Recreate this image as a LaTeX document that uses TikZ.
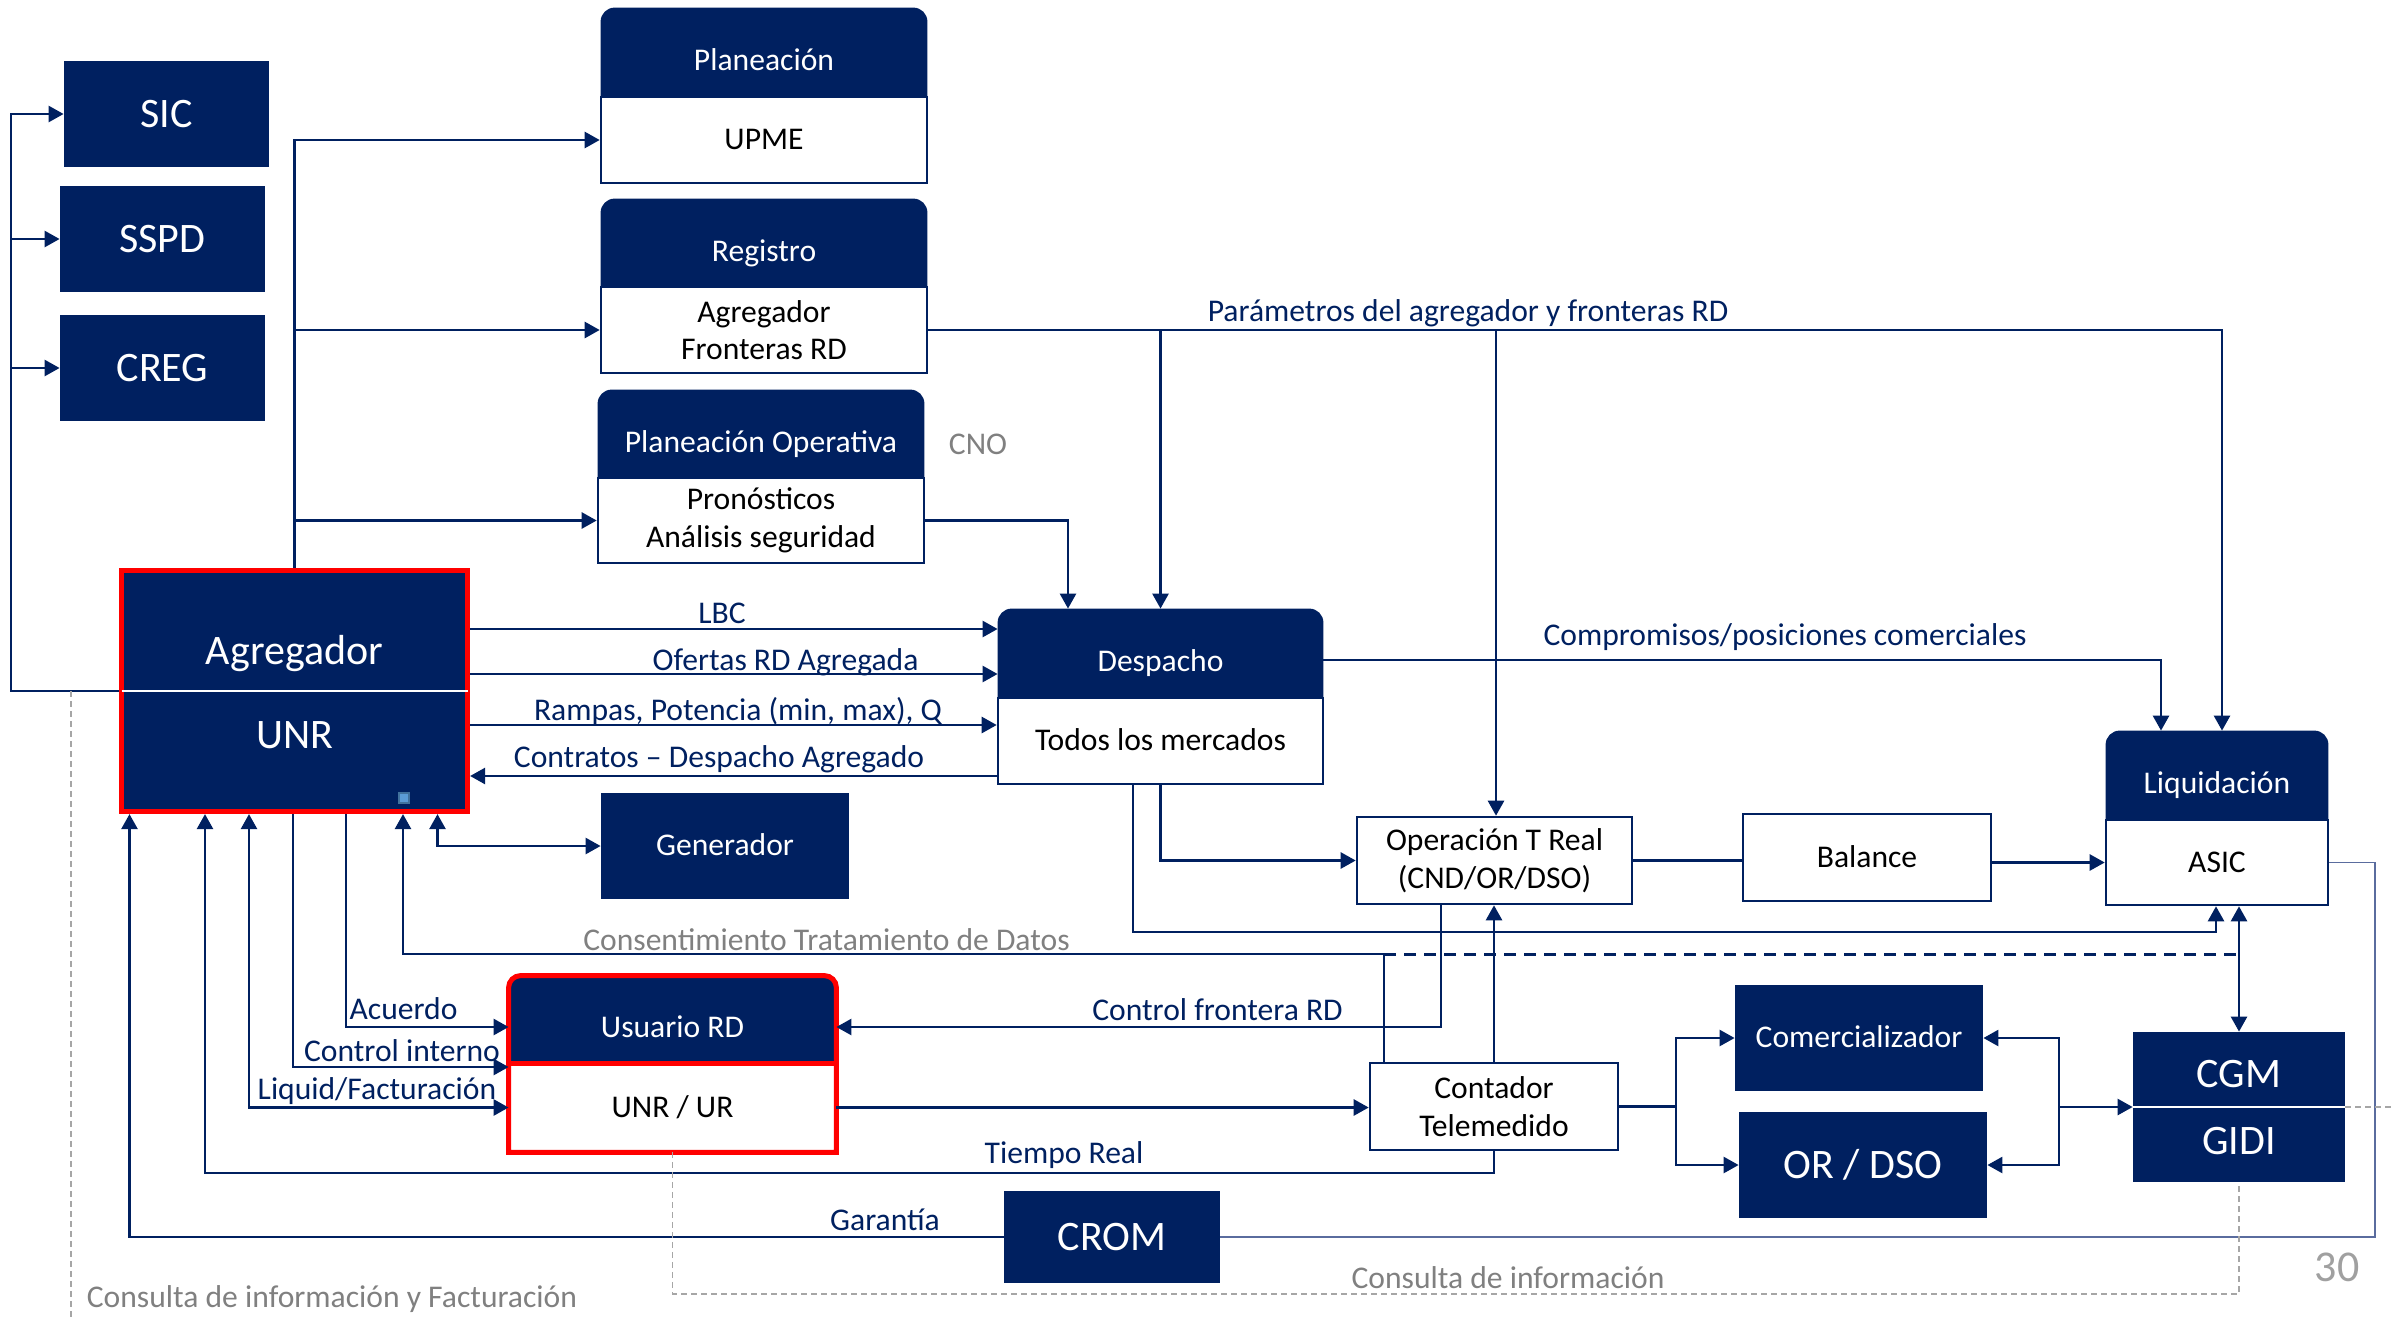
\documentclass[tikz,border=0pt]{standalone}
\usepackage{fontspec}
\setmainfont{Carlito}
\usetikzlibrary{arrows.meta,backgrounds}
\definecolor{navy}{HTML}{002060}
\definecolor{redb}{HTML}{FF0000}
\definecolor{grayt}{HTML}{808080}
\definecolor{grayd}{HTML}{A6A6A6}
\definecolor{grayn}{HTML}{A0A0A0}
\definecolor{slate}{HTML}{5A6C9E}
\definecolor{hdlf}{HTML}{5B9BD5}
\definecolor{hdld}{HTML}{41719C}
\newcommand\hdrfill[2]{%
 \begin{pgfonlayer}{background}
 \fill[navy] (#1.south west) -- ([yshift=-#2]#1.north west) arc[start angle=180,end angle=90,radius=#2] -- ([xshift=-#2]#1.north east) arc[start angle=90,end angle=0,radius=#2] -- (#1.south east) -- cycle;
 \end{pgfonlayer}}
\tikzset{
 nf/.style={font=\fontsize{15.8}{18.8}\selectfont},
 bf/.style={font=\fontsize{21}{25}\selectfont},
 capn/.style={text height=9.95pt,text depth=0pt},
 capb/.style={text height=13.25pt,text depth=0pt},
 dk/.style={fill=navy,text=white,inner sep=0pt,align=center},
 hd/.style={text=white,inner sep=0pt,align=center,nf,text height=18pt,text depth=0pt},
 wb/.style={fill=white,draw=navy,line width=1.3pt,text=black,inner sep=0pt,align=center,nf},
 lbl/.style={text=navy,inner sep=0pt,nf,anchor=base},
 glbl/.style={text=grayt,inner sep=0pt,nf,anchor=base},
 ln/.style={draw=navy,line width=1.3pt},
 arr/.style={ln,-{Triangle[length=7.5pt,width=8pt]}},
 darr/.style={ln,{Triangle[length=7.5pt,width=8pt]}-{Triangle[length=7.5pt,width=8pt]}},
 gd/.style={draw=grayd,line width=0.8pt,dash pattern=on 3pt off 2pt},
}
\begin{document}
\begin{tikzpicture}[x=0.5pt,y=-0.5pt]
\useasboundingbox (0,0) rectangle (2392,1317);

% routing coordinates
\coordinate (xL) at (11,0);
\coordinate (xP2) at (1496,0);
\coordinate (xP3) at (2222,0);
\coordinate (xPO) at (1068,0);
\coordinate (xCom) at (2161,0);
\coordinate (yCm) at (0,660);
\coordinate (yLBC) at (0,629);
\coordinate (yOf) at (0,674);
\coordinate (yRa) at (0,725);
\coordinate (yCo) at (0,776);
\coordinate (xD2) at (1133,0);
\coordinate (xLq) at (2216,0);
\coordinate (yLow) at (0,932);
\coordinate (xR) at (2375,0);
\coordinate (xG) at (129.5,0);
\coordinate (xTR) at (205,0);
\coordinate (yTR) at (0,1173);
\coordinate (xLF) at (249,0);
\coordinate (xT) at (293,0);
\coordinate (xAc) at (346,0);
\coordinate (yAc) at (0,1027);
\coordinate (yCi) at (0,1067);
\coordinate (xCs) at (403,0);
\coordinate (yCs) at (0,954);
\coordinate (xC1) at (1384,0);
\coordinate (xGen) at (437.5,0);
\coordinate (xCF) at (1441,0);
\coordinate (xB1) at (1676,0);
\coordinate (xB2) at (2059,0);
\coordinate (yBot) at (0,1294);
\coordinate (xDL) at (71,0);
\coordinate (yEnd) at (0,1317);
\coordinate (xEnd) at (2392,0);

% left boxes
\node[dk,bf,capb,minimum width=102.5pt,minimum height=53pt] (sic) at (166.5,114) {SIC};
\node[dk,bf,capb,minimum width=102.5pt,minimum height=53pt] (sspd) at (162.5,239) {SSPD};
\node[dk,bf,capb,minimum width=102.5pt,minimum height=53pt] (creg) at (162.5,368) {CREG};

% Planeacion
\node[hd,minimum width=163pt,minimum height=44.5pt] (planh) at (764,52.5) {Planeación};
\node[wb,capn,minimum width=163pt,minimum height=43pt] (planb) at (764,140) {UPME};
\hdrfill{planh}{7pt}
% Registro
\node[hd,minimum width=163pt,minimum height=44pt] (regh) at (764,243) {Registro};
\node[wb,minimum width=163pt,minimum height=43pt] (regb) at (764,330) {Agregador\\Fronteras RD};
\hdrfill{regh}{7pt}
% Planeacion operativa
\node[hd,minimum width=163pt,minimum height=44pt] (poh) at (761,434) {Planeación Operativa};
\node[wb,minimum width=163pt,minimum height=42.5pt,text depth=3pt] (pob) at (761,520.5) {Pronósticos\\Análisis seguridad};
\hdrfill{poh}{7pt}
\node[glbl] (cno) at (978,454) {CNO};

% Agregador
\node[fill=navy,draw=redb,line width=2.6pt,minimum width=173pt,minimum height=120.5pt,inner sep=0pt] (agr) at (294.5,691) {};
\draw[white,line width=0.6pt] ([xshift=1.3pt]agr.west) -- ([xshift=-1.3pt]agr.east);
\node[text=white,bf,inner sep=0pt,anchor=base] (agrt) at (294.5,664) {Agregador};
\node[text=white,bf,inner sep=0pt,anchor=base] (unrt) at (294.5,748) {UNR};
\node[draw=hdld,fill=hdlf,line width=0.6pt,minimum size=5pt,inner sep=0pt] (hdl) at (404,798) {};

% Despacho
\node[hd,minimum width=162.5pt,minimum height=44.5pt] (desh) at (1160.5,653.5) {Despacho};
\node[wb,capn,minimum width=162.5pt,minimum height=43pt] (desb) at (1160.5,741) {Todos los mercados};
\hdrfill{desh}{7pt}

% Generador
\node[dk,nf,capn,minimum width=124pt,minimum height=53pt] (gen) at (725,846) {Generador};

% Operacion, Balance
\node[wb,minimum width=137.5pt,minimum height=43.5pt] (op) at (1494.5,860.5) {Operación T Real\\(CND/OR/DSO)};
\node[wb,capn,minimum width=124pt,minimum height=43.5pt] (bal) at (1867,857.5) {Balance};

% Liquidacion
\node[hd,minimum width=111pt,minimum height=44.5pt] (liqh) at (2217,775.5) {Liquidación};
\node[wb,capn,minimum width=111pt,minimum height=42.5pt] (liqb) at (2217,862.5) {ASIC};
\hdrfill{liqh}{7pt}

% Usuario RD
\node[hd,minimum width=163.5pt,minimum height=43.5pt] (usrh) at (672.5,1019.5) {Usuario RD};
\node[fill=white,text=black,inner sep=0pt,nf,capn,minimum width=163.5pt,minimum height=44.5pt] (usrb) at (672.5,1107.5) {UNR / UR};
\hdrfill{usrh}{6pt}
\draw[redb,line width=2.5pt] (usrb.south west) -- ([yshift=-6pt]usrh.north west) arc[start angle=180,end angle=90,radius=6pt] -- ([xshift=-6pt]usrh.north east) arc[start angle=90,end angle=0,radius=6pt] -- (usrb.south east) -- cycle;
\draw[redb,line width=2.5pt] (usrh.south west) -- (usrh.south east);

% Contador
\node[wb,minimum width=124pt,minimum height=43.5pt] (cont) at (1494,1106.5) {Contador\\Telemedido};

% Comercializador, OR/DSO
\node[dk,nf,capn,minimum width=124pt,minimum height=53pt] (com) at (1859,1038) {Comercializador};
\node[dk,bf,capb,minimum width=124pt,minimum height=53pt] (ordso) at (1863,1165) {OR / DSO};

% CGM / GIDI
\node[fill=navy,minimum width=106pt,minimum height=75pt,inner sep=0pt] (cgm) at (2239,1107) {};
\draw[white,line width=0.6pt] (cgm.west) -- (cgm.east);
\node[text=white,bf,inner sep=0pt,anchor=base] (cgmt) at (2239,1087.5) {CGM};
\node[text=white,bf,inner sep=0pt,anchor=base] (gidit) at (2239,1154) {GIDI};

% CROM
\node[dk,bf,capb,minimum width=108pt,minimum height=46pt] (crom) at (1112,1237) {CROM};

% ---- connectors ----
\draw[arr] (agr.west) -| (xL |- sic.west) -- (sic.west);
\draw[arr] (xL |- sspd.west) -- (sspd.west);
\draw[arr] (xL |- creg.west) -- (creg.west);

\draw[arr] (agr.north) |- (planb.west);
\draw[arr] (agr.north |- regb.west) -- (regb.west);
\draw[arr] (agr.north |- pob.west) -- (pob.west);

\draw[arr] (regb.east) -| (xP3 |- liqh.north);
\draw[arr] (regb.east -| desh.north) -- (desh.north);
\draw[arr] (regb.east -| xP2) -- (xP2 |- op.north);
\node[lbl] (lpar) at (1468,321) {Parámetros del agregador y fronteras RD};

\draw[arr] (pob.east) -| (xPO |- desh.north);

\draw[arr] (agr.east |- yLBC) -- (desh.west |- yLBC);
\draw[arr] (agr.east |- yOf) -- (desh.west |- yOf);
\draw[arr] (agr.east |- yRa) -- (desb.west |- yRa);
\draw[arr] (desb.west |- yCo) -- (agr.east |- yCo);
\node[lbl] (llbc) at (722,623.5) {LBC};
\node[lbl] (lof) at (785.5,670) {Ofertas RD Agregada};
\node[lbl] (lra) at (738,720.5) {Rampas, Potencia (min, max), Q};
\node[lbl] (lco) at (719,767) {Contratos – Despacho Agregado};

\draw[arr] (desh.east |- yCm) -| (xCom |- liqh.north);
\node[lbl] (lcm) at (1785,645.5) {Compromisos/posiciones comerciales};

\draw[arr] (desb.south) |- (op.west);
\draw[arr] (desb.south -| xD2) |- (xLq |- yLow) -- (xLq |- liqb.south);
\draw[ln] (op.east) -- (op.east -| bal.west);
\draw[arr] (bal.east |- liqb.west) -- (liqb.west);

\draw[slate,line width=0.8pt] (liqb.east) -| (xR |- crom.east) -- (crom.east);
\draw[arr] (crom.west) -| (xG |- agr.south);
\node[lbl] (lga) at (885,1230) {Garantía};

\draw[darr] (xGen |- agr.south) |- (gen.west);

\draw[arr] (xC1 |- cont.north) |- (xCs |- yCs) -- (xCs |- agr.south);
\node[glbl] (lcs) at (826.5,950) {Consentimiento Tratamiento de Datos};
\draw[navy,line width=1.5pt,dash pattern=on 6pt off 4pt] (xC1 |- yCs) -- (cgm.north |- yCs);
\draw[darr] (liqb.south -| cgm.north) -- (cgm.north);

\draw[arr] (xAc |- agr.south) |- (usrh.west |- yAc);
\node[lbl] (lac) at (403.5,1019.5) {Acuerdo};
\draw[arr] (xT |- agr.south) |- (usrh.west |- yCi);
\node[lbl] (lci) at (402,1061) {Control interno};
\draw[darr] (xLF |- agr.south) |- (usrb.west);
\node[lbl] (llf) at (377,1099) {Liquid/Facturación};

\draw[arr] (cont.south) |- (xTR |- yTR) -- (xTR |- agr.south);
\node[lbl] (ltr) at (1064,1163.5) {Tiempo Real};

\draw[arr] (xCF |- op.south) |- (usrh.east |- yAc);
\node[lbl] (lcf) at (1217.5,1020.5) {Control frontera RD};

\draw[arr] (usrb.east) -- (usrb.east -| cont.west);
\draw[arr] (cont.north) -- (cont.north |- op.south);

\draw[ln] (cont.east) -- (cont.east -| xB1);
\draw[arr] (cont.east -| xB1) |- (com.west);
\draw[arr] (cont.east -| xB1) |- (ordso.west);
\draw[arr] (cgm.west -| xB2) -- (cgm.west);
\draw[arr] (cgm.west -| xB2) |- (com.east);
\draw[arr] (cgm.west -| xB2) |- (ordso.east);

% gray dashed
\draw[gd] (usrb.south) |- (cgm.south |- yBot) -- (cgm.south);
\node[glbl] (lci2) at (1508,1288) {Consulta de información};
\draw[gd] (xDL |- agr.west) -- (xDL |- yEnd);
\node[glbl] (lcf2) at (332,1307) {Consulta de información y Facturación};
\draw[gd] (cgm.east) -- (cgm.east -| xEnd);

\node[text=grayn,inner sep=0pt,anchor=base,font=\fontsize{22}{26}\selectfont] (pnum) at (2337,1281.5) {30};
\end{tikzpicture}
\end{document}
